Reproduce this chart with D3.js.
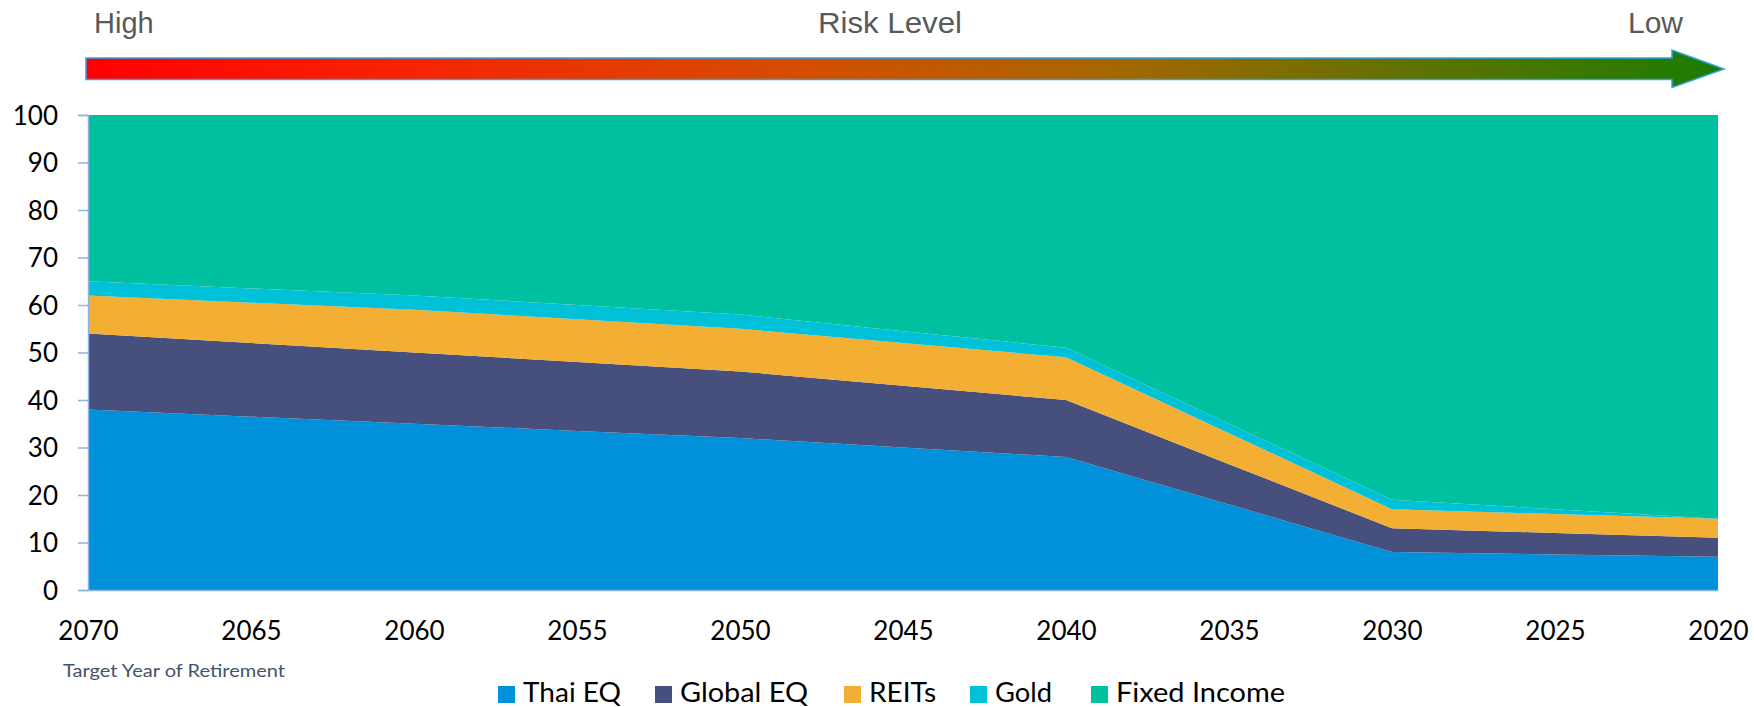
<!DOCTYPE html>
<html><head><meta charset="utf-8">
<script src="https://cdn.jsdelivr.net/npm/d3@7"></script>
<style>body{margin:0;background:#fff}svg{display:block}</style>
</head><body>
<svg id="c" width="1754" height="707"></svg>
<script>
const years = [2070, 2065, 2060, 2055, 2050, 2045, 2040, 2035, 2030, 2025, 2020];
const thaiEQ = [38, 36.5, 35, 33.5, 32, 30, 28, 18, 8, 7.5, 7];
const globalEQ = [16, 15.5, 15, 14.5, 14, 13, 12, 8.5, 5, 4.5, 4];
const reits = [8, 8.5, 9, 9, 9, 9, 9, 6.5, 4, 4, 4];
const gold = [3, 3, 3, 3, 3, 2.5, 2, 2, 2, 1, 0];
const fixedIncome = [35, 36.5, 38, 40, 42, 45.5, 49, 65, 81, 83, 85];
const seriesNames = ["Thai EQ", "Global EQ", "REITs", "Gold", "Fixed Income"];
const seriesColors = ["#0091da", "#474f7d", "#f2af33", "#00c1d8", "#00c19f"];
const yTicks = [0, 10, 20, 30, 40, 50, 60, 70, 80, 90, 100];

const keys = ["thai", "global", "reits", "gold", "fixed"];
const rows = years.map((y, i) => ({year: y, thai: thaiEQ[i], global: globalEQ[i], reits: reits[i], gold: gold[i], fixed: fixedIncome[i]}));

const svg = d3.select("#c");
const x = d3.scalePoint().domain(years).range([88, 1718]);
const y = d3.scaleLinear().domain([0, 100]).range([590, 115]);

// risk arrow
const defs = svg.append("defs");
const grad = defs.append("linearGradient").attr("id", "rg").attr("gradientUnits", "userSpaceOnUse")
  .attr("x1", 86).attr("x2", 1724).attr("y1", 0).attr("y2", 0);
[[0, "#ff0000"], [0.2, "#f82400"], [0.45, "#d25000"], [0.62, "#a86600"], [1, "#1a7d00"]]
  .forEach(([o, c]) => grad.append("stop").attr("offset", o).attr("stop-color", c));
svg.append("path")
  .attr("d", "M86,58 L1672,58 L1672,50 L1724,69 L1672,87.5 L1672,79.5 L86,79.5 Z")
  .attr("fill", "url(#rg)").attr("stroke", "#2aa4ea").attr("stroke-width", 1.5);
const tf = "'Liberation Sans', Arial, sans-serif";
svg.append("text").attr("x", 94).attr("y", 33).attr("font-family", tf).attr("font-size", 29)
  .attr("fill", "#595959").text("High");
svg.append("text").attr("x", 890).attr("y", 33).attr("text-anchor", "middle").attr("font-family", tf).attr("font-size", 30)
  .attr("fill", "#595959").attr("textLength", 144).attr("lengthAdjust", "spacingAndGlyphs").text("Risk Level");
svg.append("text").attr("x", 1628).attr("y", 33).attr("font-family", tf).attr("font-size", 29)
  .attr("fill", "#595959").attr("textLength", 55).attr("lengthAdjust", "spacingAndGlyphs").text("Low");

// areas
const stacked = d3.stack().keys(keys)(rows);
const area = d3.area().x(d => x(d.data.year)).y0(d => y(d[0])).y1(d => y(d[1]));
svg.append("g").selectAll("path").data(stacked).join("path")
  .attr("d", area).attr("fill", (d, i) => seriesColors[i]);

// axes
const af = "Lato, 'Open Sans', sans-serif";
const yAxis = svg.append("g").attr("transform", "translate(88,0)")
  .call(d3.axisLeft(y).tickValues(yTicks).tickSize(10).tickPadding(20).tickFormat(d3.format("d")));
yAxis.select(".domain").attr("stroke", "#8db3e2").attr("stroke-width", 1.5);
yAxis.selectAll(".tick line").attr("stroke", "#8db3e2").attr("stroke-width", 1.5);
yAxis.selectAll(".tick text").attr("font-family", af).attr("font-size", 26).attr("fill", "#000").attr("dy", "0.36em");

const xAxis = svg.append("g").attr("transform", "translate(0,590)")
  .call(d3.axisBottom(x).tickSize(0).tickPadding(32).tickFormat(d3.format("d")));
xAxis.select(".domain").attr("stroke", "#8db3e2").attr("stroke-width", 1.5);
xAxis.selectAll(".tick text").attr("font-family", af).attr("font-size", 26).attr("fill", "#000");

svg.append("text").attr("x", 63).attr("y", 677).attr("font-family", af).attr("font-size", 17)
  .attr("fill", "#44546a").attr("textLength", 222).attr("lengthAdjust", "spacingAndGlyphs").text("Target Year of Retirement");

// legend
const legX = [498, 655, 844, 970, 1091];
const legW = [98, 128, 67, 57, 169];
const lg = svg.append("g").selectAll("g").data(seriesNames).join("g")
  .attr("transform", (d, i) => `translate(${legX[i]},0)`);
lg.append("rect").attr("x", 0).attr("y", 686).attr("width", 17).attr("height", 17)
  .attr("fill", (d, i) => seriesColors[i]);
lg.append("text").attr("x", 25).attr("y", 702).attr("font-family", af).attr("font-size", 26)
  .attr("fill", "#000").attr("textLength", (d, i) => legW[i]).attr("lengthAdjust", "spacingAndGlyphs").text(d => d);
</script>
</body></html>
